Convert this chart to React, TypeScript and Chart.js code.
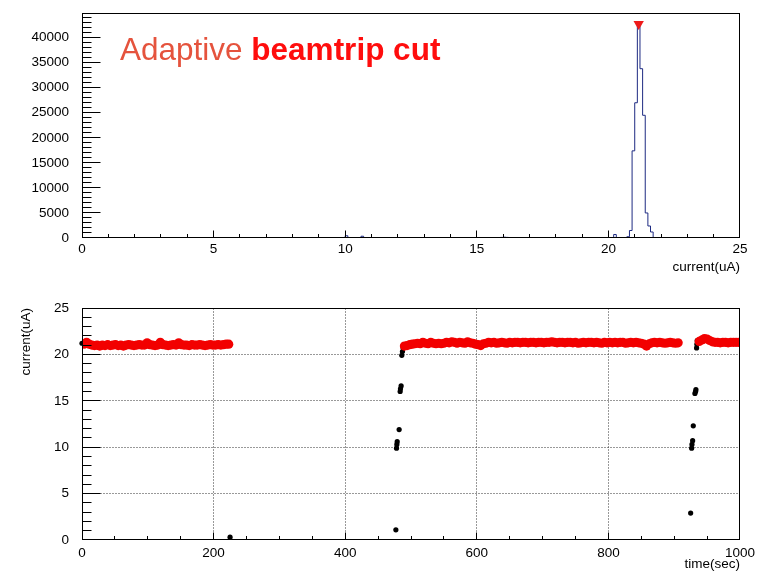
import React, { useEffect, useRef } from "react";
import { Chart, registerables } from "chart.js";

Chart.register(...registerables);

// ---------------- Top panel: histogram of beam current ----------------
const HIST_MIN = 0;
const HIST_MAX = 25;
const HIST_BIN_WIDTH = 0.1;
// non-empty bins (bin centres, uA) and their counts
const HIST_BIN_CENTERS = [10.05, 10.65, 15.95, 16.05, 16.15, 20.25, 20.75, 20.85, 20.95, 21.05, 21.15, 21.25, 21.35, 21.45, 21.55, 21.65];
const HIST_COUNTS = [450, 350, 120, 160, 120, 700, 250, 1500, 17400, 27000, 42700, 33800, 24500, 5000, 2400, 1200];
const PEAK_X = 21.15;
const PEAK_Y = 42700;
const TOP_Y_MAX = 44900;
const TOP_X_TICKS = [0, 5, 10, 15, 20, 25];
const TOP_Y_TICKS = [0, 5000, 10000, 15000, 20000, 25000, 30000, 35000, 40000];

// ---------------- Bottom panel: current vs time ----------------
const SAMPLE_DT = 4; // seconds between samples of the accepted (red) data
const SEG1_START = 3;
const SEG1_VALUES = [
  21.1, 21.3, 21.1, 21.0, 20.95, 21.0, 20.9, 21.0, 20.95, 21.05,
  20.95, 21.0, 21.05, 20.95, 21.0, 20.9, 21.0, 21.05, 21.0, 20.95,
  21.0, 21.05, 21.0, 21.0, 21.25, 21.05, 21.0, 20.95, 21.0, 21.3,
  21.05, 21.0, 20.95, 21.0, 21.05, 21.0, 21.25, 21.05, 21.0, 21.0,
  20.95, 21.05, 21.0, 21.0, 21.05, 21.0, 20.95, 21.0, 21.05, 21.0,
  21.0, 21.05, 21.0, 21.05, 21.1, 21.1,
];
const SEG2_START = 490;
const SEG2_VALUES = [
  20.9, 20.95, 21.05, 21.1, 21.15, 21.2, 21.15, 21.3, 21.2, 21.15,
  21.3, 21.2, 21.15, 21.2, 21.15, 21.2, 21.3, 21.25, 21.35, 21.3,
  21.2, 21.3, 21.25, 21.2, 21.35, 21.25, 21.2, 21.1, 21.05, 20.95,
  21.15, 21.2, 21.3, 21.25, 21.3, 21.2, 21.25, 21.3, 21.25, 21.2,
  21.3, 21.25, 21.3, 21.3, 21.25, 21.3, 21.3, 21.25, 21.3, 21.3,
  21.25, 21.3, 21.3, 21.25, 21.3, 21.3, 21.35, 21.3, 21.25, 21.3,
  21.3, 21.25, 21.3, 21.3, 21.25, 21.3, 21.2, 21.25, 21.3, 21.25,
  21.3, 21.3, 21.25, 21.3, 21.25, 21.2, 21.3, 21.25, 21.3, 21.25,
  21.3, 21.25, 21.3, 21.3, 21.2, 21.25, 21.3, 21.25, 21.3, 21.25,
  21.2, 21.1, 20.9, 21.15, 21.25, 21.3, 21.25, 21.3, 21.25, 21.2,
  21.25, 21.3, 21.25, 21.2, 21.25,
];
const SEG3_START = 938;
const SEG3_VALUES = [21.4, 21.55, 21.7, 21.65, 21.5, 21.35, 21.3, 21.3, 21.25, 21.3, 21.3, 21.25, 21.3, 21.3, 21.3, 21.3];

// rejected points (beam trips / ramps)
const TRIP_TIMES = [0, 225, 477, 478, 478.5, 479, 482, 483.5, 484, 485, 486, 487, 488, 925, 926.5, 927, 928, 929, 931.5, 932.5, 933, 934, 934.5, 935];
const TRIP_VALUES = [21.2, 0.3, 1.1, 9.9, 10.3, 10.6, 11.9, 16.0, 16.3, 16.6, 19.9, 20.3, 20.7, 2.9, 9.9, 10.3, 10.7, 12.3, 15.8, 16.0, 16.2, 20.7, 21.1, 21.5];

const BOT_X_TICKS = [0, 200, 400, 600, 800, 1000];
const BOT_Y_TICKS = [0, 5, 10, 15, 20, 25];
const BOT_GRID_X = [200, 400, 600, 800];
const BOT_GRID_Y = [5, 10, 15, 20];

const FONT_FAMILY = '"Liberation Sans", Arial, Helvetica, sans-serif';
const LABEL_FONT = { family: FONT_FAMILY, size: 13.5 };

function buildHistogram() {
  const nBins = Math.round((HIST_MAX - HIST_MIN) / HIST_BIN_WIDTH);
  const counts: number[] = new Array(nBins).fill(0);
  HIST_BIN_CENTERS.forEach((c, i) => {
    const b = Math.round((c - HIST_MIN - HIST_BIN_WIDTH / 2) / HIST_BIN_WIDTH);
    counts[b] = HIST_COUNTS[i];
  });
  const pts = counts.map((c, i) => ({ x: HIST_MIN + i * HIST_BIN_WIDTH, y: c }));
  pts.push({ x: HIST_MAX, y: counts[nBins - 1] });
  return pts;
}

function segPoints(start: number, values: number[]) {
  return values.map((v, i) => ({ x: start + i * SAMPLE_DT, y: v }));
}

type FrameCfg = {
  xMajor: number[];
  xMinorStep: number;
  yMajor: number[];
  yMinorStep: number;
  xMajorLen: number;
  xMinorLen: number;
  yMajorLen: number;
  yMinorLen: number;
  gridX?: number[];
  gridY?: number[];
};

function makeRootFrame(cfg: FrameCfg) {
  const frameBox = (a: any) => ({
    L: Math.round(a.left) + 0.5,
    R: Math.round(a.right) - 0.5,
    T: Math.round(a.top) + 0.5,
    B: Math.round(a.bottom) - 0.5,
  });
  const snap = (p: number, lo: number, hi: number) => Math.min(hi, Math.max(lo, Math.floor(p) + 0.5));
  return {
    id: "rootFrame",
    beforeDatasetsDraw(chart: any) {
      if (!cfg.gridX && !cfg.gridY) return;
      const { ctx, chartArea: a, scales } = chart;
      const { L, R, T, B } = frameBox(a);
      ctx.save();
      ctx.strokeStyle = "#333";
      ctx.lineWidth = 1;
      ctx.setLineDash([1, 2]);
      (cfg.gridX || []).forEach((v) => {
        const p = snap(scales.x.getPixelForValue(v), L, R);
        ctx.beginPath();
        ctx.moveTo(p, T);
        ctx.lineTo(p, B);
        ctx.stroke();
      });
      (cfg.gridY || []).forEach((v) => {
        const p = snap(scales.y.getPixelForValue(v), T, B);
        ctx.beginPath();
        ctx.moveTo(L, p);
        ctx.lineTo(R, p);
        ctx.stroke();
      });
      ctx.restore();
    },
    afterDatasetsDraw(chart: any) {
      const { ctx, chartArea: a, scales } = chart;
      const xs = scales.x;
      const ys = scales.y;
      const { L, R, T, B } = frameBox(a);
      ctx.save();
      ctx.strokeStyle = "#000";
      ctx.lineWidth = 1;
      ctx.setLineDash([]);
      ctx.strokeRect(L, T, R - L, B - T);
      const isMajor = (arr: number[], v: number) => arr.some((m) => Math.abs(m - v) < 1e-6);
      for (let v = xs.min; v <= xs.max + 1e-9; v += cfg.xMinorStep) {
        const vv = Math.round(v * 1e6) / 1e6;
        const p = snap(xs.getPixelForValue(vv), L, R);
        const len = isMajor(cfg.xMajor, vv) ? cfg.xMajorLen : cfg.xMinorLen;
        ctx.beginPath();
        ctx.moveTo(p, B);
        ctx.lineTo(p, B - len);
        ctx.stroke();
      }
      for (let v = ys.min; v <= ys.max + 1e-9; v += cfg.yMinorStep) {
        const vv = Math.round(v * 1e6) / 1e6;
        const p = snap(ys.getPixelForValue(vv), T, B);
        const len = isMajor(cfg.yMajor, vv) ? cfg.yMajorLen : cfg.yMinorLen;
        ctx.beginPath();
        ctx.moveTo(L, p);
        ctx.lineTo(L + len, p);
        ctx.stroke();
      }
      ctx.restore();
    },
  };
}

function axisBase(ticks: number[]) {
  return {
    type: "linear" as const,
    grid: { display: false },
    border: { display: false },
    afterBuildTicks: (s: any) => {
      s.ticks = ticks.map((v) => ({ value: v }));
    },
  };
}

const plainLabel = (v: any) => String(v);

export default function App() {
  const topRef = useRef<HTMLCanvasElement>(null);
  const botRef = useRef<HTMLCanvasElement>(null);

  useEffect(() => {
    const top = new Chart(topRef.current as HTMLCanvasElement, {
      type: "line",
      data: {
        datasets: [
          {
            label: "peak",
            data: [{ x: PEAK_X, y: PEAK_Y }],
            showLine: false,
            pointStyle: "triangle",
            rotation: 180,
            pointRadius: 6,
            pointBackgroundColor: "#ee1a1a",
            pointBorderWidth: 0,
            clip: false,
          } as any,
          {
            label: "current",
            data: buildHistogram(),
            stepped: true,
            borderColor: "#1d2a82",
            borderWidth: 1,
            pointRadius: 0,
            fill: false,
          } as any,
        ],
      },
      options: {
        animation: false,
        responsive: false,
        events: [],
        layout: { padding: { top: 6, right: 20, left: 0, bottom: 0 } },
        plugins: { legend: { display: false }, tooltip: { enabled: false } },
        scales: {
          x: {
            ...axisBase(TOP_X_TICKS),
            min: HIST_MIN,
            max: HIST_MAX,
            afterFit: (s: any) => {
              s.height = 37;
            },
            ticks: { autoSkip: false, maxRotation: 0, padding: -5, color: "#000", font: LABEL_FONT, callback: plainLabel },
            title: { display: true, text: "current(uA)", align: "end", padding: { top: 5, bottom: 0 }, color: "#000", font: LABEL_FONT },
          },
          y: {
            ...axisBase(TOP_Y_TICKS),
            min: 0,
            max: TOP_Y_MAX,
            afterFit: (s: any) => {
              s.width = 82;
            },
            ticks: { autoSkip: false, padding: 5, color: "#000", font: LABEL_FONT, callback: plainLabel },
          },
        } as any,
      },
      plugins: [
        makeRootFrame({
          xMajor: TOP_X_TICKS,
          xMinorStep: 1,
          yMajor: TOP_Y_TICKS,
          yMinorStep: 1000,
          xMajorLen: 7,
          xMinorLen: 3.5,
          yMajorLen: 18,
          yMinorLen: 9,
        }),
      ],
    });

    const redPoints = [
      ...segPoints(SEG1_START, SEG1_VALUES),
      ...segPoints(SEG2_START, SEG2_VALUES),
      ...segPoints(SEG3_START, SEG3_VALUES),
    ];
    const blackPoints = TRIP_TIMES.map((t, i) => ({ x: t, y: TRIP_VALUES[i] }));

    const bot = new Chart(botRef.current as HTMLCanvasElement, {
      type: "scatter",
      data: {
        datasets: [
          {
            label: "accepted",
            data: redPoints,
            pointRadius: 4.6,
            pointBackgroundColor: "#f20000",
            pointBorderWidth: 0,
            clip: 0,
          } as any,
          {
            label: "all",
            data: blackPoints,
            pointRadius: 2.6,
            pointBackgroundColor: "#000",
            pointBorderWidth: 0,
            clip: false,
          } as any,
        ],
      },
      options: {
        animation: false,
        responsive: false,
        events: [],
        layout: { padding: { top: 18, right: 20, left: 0, bottom: 0 } },
        plugins: { legend: { display: false }, tooltip: { enabled: false } },
        scales: {
          x: {
            ...axisBase(BOT_X_TICKS),
            min: 0,
            max: 1000,
            afterFit: (s: any) => {
              s.height = 32;
            },
            ticks: { autoSkip: false, maxRotation: 0, padding: -3, color: "#000", font: LABEL_FONT, callback: plainLabel },
            title: { display: true, text: "time(sec)", align: "end", padding: { top: 1, bottom: 0 }, color: "#000", font: LABEL_FONT },
          },
          y: {
            ...axisBase(BOT_Y_TICKS),
            min: 0,
            max: 25,
            afterFit: (s: any) => {
              s.width = 82;
            },
            ticks: { autoSkip: false, padding: 5, color: "#000", font: LABEL_FONT, callback: plainLabel },
            title: { display: true, text: "current(uA)", align: "end", padding: { top: 18, bottom: 0 }, color: "#000", font: LABEL_FONT },
          },
        } as any,
      },
      plugins: [
        makeRootFrame({
          xMajor: BOT_X_TICKS,
          xMinorStep: 50,
          yMajor: BOT_Y_TICKS,
          yMinorStep: 1,
          xMajorLen: 7,
          xMinorLen: 3.5,
          yMajorLen: 18,
          yMinorLen: 9,
          gridX: BOT_GRID_X,
          gridY: BOT_GRID_Y,
        }),
      ],
    });

    return () => {
      top.destroy();
      bot.destroy();
    };
  }, []);

  return (
    <div style={{ position: "absolute", left: 0, top: 0, width: 760, height: 572, background: "#fff", overflow: "hidden" }}>
      <canvas ref={topRef} width={760} height={275} style={{ position: "absolute", left: 0, top: 0, width: 760, height: 275 }} />
      <canvas ref={botRef} width={760} height={282} style={{ position: "absolute", left: 0, top: 290, width: 760, height: 282 }} />
      <div
        style={{
          position: "absolute",
          left: 120,
          top: 34,
          fontFamily: FONT_FAMILY,
          fontSize: 31.5,
          lineHeight: "31.5px",
          whiteSpace: "nowrap",
        }}
      >
        <span style={{ color: "#e5533d" }}>Adaptive </span>
        <span style={{ color: "#ff0d0d", fontWeight: "bold" }}>beamtrip cut</span>
      </div>
    </div>
  );
}
